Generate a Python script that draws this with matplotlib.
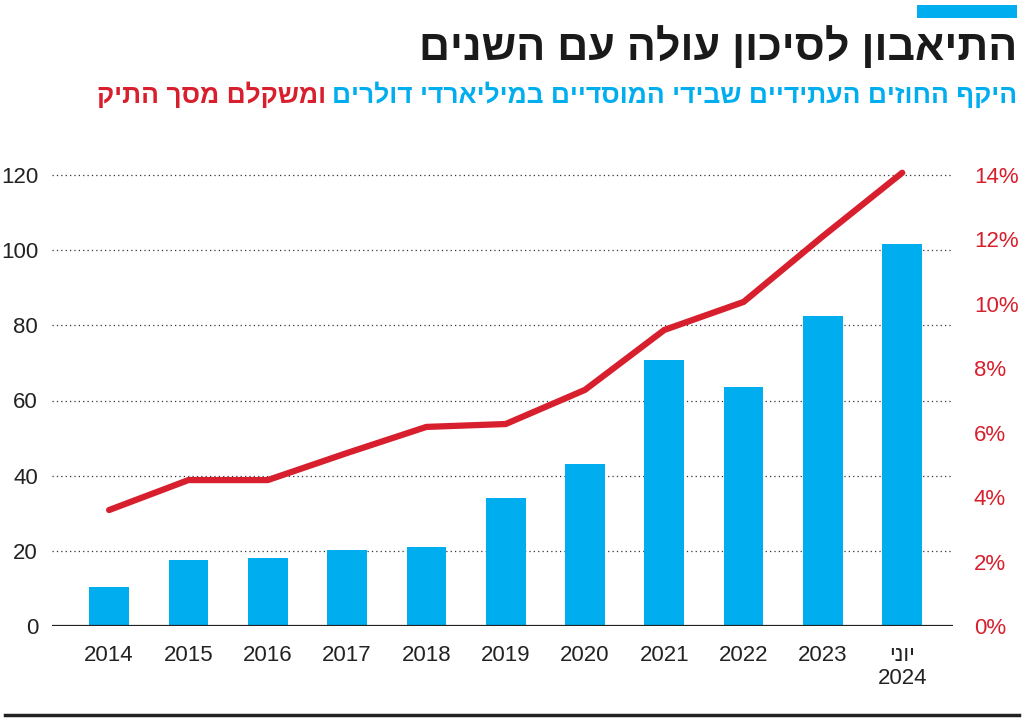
import matplotlib
matplotlib.use('Agg')
import matplotlib.pyplot as plt
from matplotlib.lines import Line2D
from matplotlib.patches import Rectangle
import numpy as np

# data
years = ['2014', '2015', '2016', '2017', '2018', '2019', '2020', '2021', '2022', '2023', 'יוני\n2024']
futures_bn = [10.4, 17.6, 18.1, 20.2, 21.0, 34.0, 43.1, 70.7, 63.6, 82.4, 101.6]
share_pct = [3.6, 4.53, 4.53, 5.37, 6.18, 6.27, 7.33, 9.19, 10.06, 12.1, 14.07]
left_ticks = [0, 20, 40, 60, 80, 100, 120]
right_ticks = [0, 2, 4, 6, 8, 10, 12, 14]

title = 'התיאבון לסיכון עולה עם השנים'
sub_blue = 'היקף החוזים העתידיים שבידי המוסדיים במיליארדי דולרים'
sub_red = 'ומשקלם מסך התיק'

BLUE = '#00aeef'
RED = '#d71f2d'
HEAD_FONT = ['Liberation Sans', 'DejaVu Sans']


def rtl(s):
    # matplotlib has no bidi support: flip each hebrew line for visual order
    return '\n'.join(line[::-1] if any('\u0590' <= c <= '\u05ff' for c in line) else line
                     for line in s.split('\n'))


plt.rcParams['font.family'] = ['Liberation Sans', 'DejaVu Sans']

fig = plt.figure(figsize=(10.24, 7.2), dpi=100)

px_per_unit = 451 / 120
ytop = 122
ax = fig.add_axes([52 / 1024, 94 / 720, 901 / 1024, ytop * px_per_unit / 720])
x = np.arange(len(years))
ax.bar(x, futures_bn, width=0.5, color=BLUE, zorder=2)
ax.set_xlim(-0.72, 10.64)
ax.set_ylim(0, ytop)
ax.set_yticks(left_ticks)
ax.set_xticks(x)
ax.set_xticklabels([rtl(y) for y in years], fontsize=16, color='#222222',
                   linespacing=1.1, va='top')
ax.tick_params(axis='x', length=0, pad=14)
ax.tick_params(axis='y', length=0, pad=10, labelsize=16, labelcolor='#222222')
for sp in ax.spines.values():
    sp.set_visible(False)
for t in left_ticks[1:]:
    ax.axhline(t, color='#333333', lw=0.9, ls=(0, (1, 2.5)), zorder=1)
ax.axhline(0, color='#222222', lw=1.6, zorder=3)

ax2 = ax.twinx()
ax2.plot(x, share_pct, color=RED, lw=4.5, solid_capstyle='round', zorder=4)
ax2.set_ylim(0, ytop * 14 / 120)
ax2.set_yticks(right_ticks)
ax2.set_yticklabels(['%d%%' % t for t in right_ticks])
ax2.tick_params(axis='y', length=0, pad=15, labelsize=16, labelcolor=RED)
for sp in ax2.spines.values():
    sp.set_visible(False)

# header
fig.add_artist(Rectangle((917 / 1024, 702 / 720), 100 / 1024, 13 / 720,
                         transform=fig.transFigure, color=BLUE, lw=0))
fig.text(1017 / 1024, 672 / 720, rtl(title), ha='right', va='center',
         fontsize=31, fontweight='bold', color='#1a1a1a', family=HEAD_FONT)
t_blue = fig.text(1017 / 1024, 625 / 720, rtl(sub_blue), ha='right', va='center',
                  fontsize=19, fontweight='bold', color=BLUE, family=HEAD_FONT)
ax.annotate(rtl(sub_red), xy=(0, 0), xycoords=t_blue, xytext=(-4, 0),
            textcoords='offset points', ha='right', va='bottom',
            fontsize=19, fontweight='bold', color=RED,
            family=HEAD_FONT, annotation_clip=False)

# bottom rule
fig.add_artist(Line2D([5 / 1024, 1019 / 1024], [5 / 720, 5 / 720],
                      transform=fig.transFigure, color='#222222', lw=2.5))

fig.savefig('out.png', dpi=100)
